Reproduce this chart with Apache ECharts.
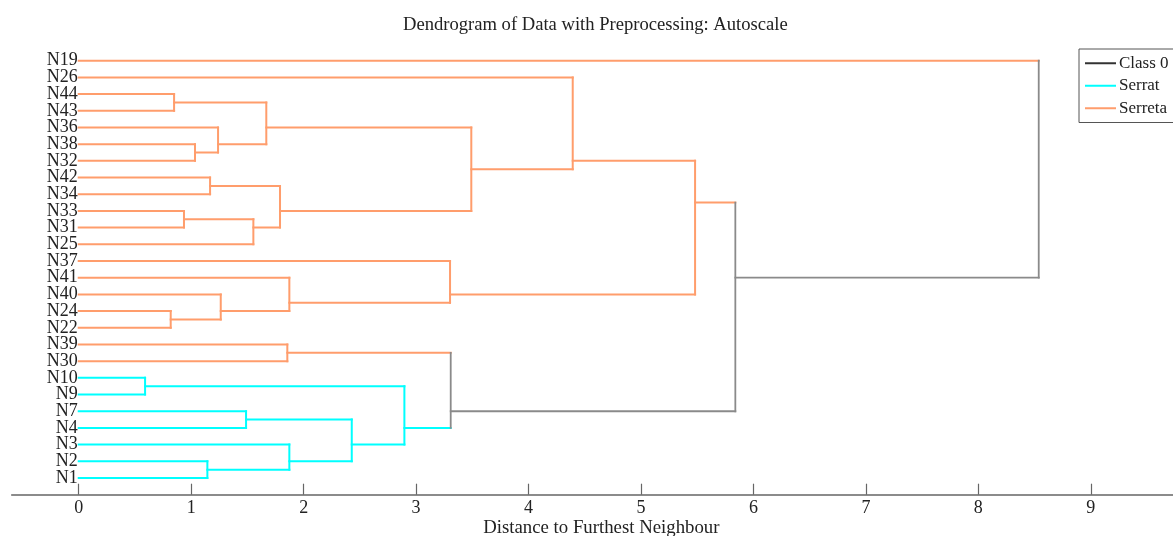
<!DOCTYPE html>
<html><head><meta charset="utf-8">
<script src="https://cdn.jsdelivr.net/npm/echarts@6/dist/echarts.min.js"></script>
<style>html,body{margin:0;padding:0;background:#fff}#c{width:1173px;height:536px}</style>
</head><body><div id="c"></div>
<script>
// ---- data ----
const leafNames = ['N19','N26','N44','N43','N36','N38','N32','N42','N34','N33','N31','N25','N37','N41','N40','N24','N22','N39','N30','N10','N9','N7','N4','N3','N2','N1'];
const leafClasses = ['Serreta','Serreta','Serreta','Serreta','Serreta','Serreta','Serreta','Serreta','Serreta','Serreta','Serreta','Serreta','Serreta','Serreta','Serreta','Serreta','Serreta','Serreta','Serreta','Serrat','Serrat','Serrat','Serrat','Serrat','Serrat','Serrat'];
const mergeLeft  = ['N44','N38','N36','m0','N42','N33','m5','m4','m3','N26','N24','N40','N41','N37','m9','N39','N10','N7','N2','N3','m17','m16','m15','m14','N19'];
const mergeRight = ['N43','N32','m1','m2','N34','N31','N25','m6','m7','m8','N22','m10','m11','m12','m13','N30','N9','N4','N1','m18','m19','m20','m21','m22','m23'];
const mergeHeights = [0.848,1.034,1.239,1.668,1.168,0.936,1.553,1.790,3.491,4.393,0.818,1.263,1.873,3.302,5.481,1.855,0.590,1.488,1.144,1.873,2.428,2.896,3.308,5.839,8.537];
const xTickValues = [0,1,2,3,4,5,6,7,8,9];
const classNames = ['Class 0','Serrat','Serreta'];
const classColors = {'Class 0':'#8a8a8a','Serrat':'#00FFFF','Serreta':'#FF9D6C'};

// ---- build tree ----
const nodes = {};
leafNames.forEach((n,i)=>{ nodes[n] = {h:0, y:i, leaves:[i], cls:leafClasses[i]}; });
mergeHeights.forEach((h,k)=>{
  const a = nodes[mergeLeft[k]], b = nodes[mergeRight[k]];
  const leaves = a.leaves.concat(b.leaves);
  const y = leaves.reduce((s,v)=>s+v,0)/leaves.length;
  const m = {h, y, leaves, cls: a.cls===b.cls ? a.cls : 'Class 0', kids:[a,b]};
  a.parent = m; b.parent = m;
  nodes['m'+k] = m;
});
const segs = [];
Object.values(nodes).forEach(n=>{
  if (n.parent) segs.push({cls:n.cls, pts:[[n.h,n.y],[n.parent.h,n.y]]});
  if (n.kids) segs.push({cls:n.cls, pts:[[n.h,n.kids[0].y],[n.h,n.kids[1].y]]});
});
const order = {'Serreta':0,'Serrat':1,'Class 0':2};
segs.sort((a,b)=>order[a.cls]-order[b.cls]);
const series = segs.map(s=>({
  type:'line', name:s.cls, data:s.pts, symbol:'none', showSymbol:false, silent:true, animation:false,
  color:classColors[s.cls],
  lineStyle:{color:classColors[s.cls], width: s.cls==='Class 0'?1.8:2, cap:'square'}
}));

const font = 'Liberation Serif';
const chart = echarts.init(document.getElementById('c'), null, {renderer:'canvas'});
chart.setOption({
  backgroundColor:'#fff',
  animation:false,
  title:{text:'Dendrogram of Data with Preprocessing: Autoscale', left:398, top:11,
    textStyle:{fontFamily:font, fontSize:18.6, fontWeight:'normal', color:'#222'}},
  legend:{
    orient:'vertical', left:1079, top:49, selectedMode:false,
    icon:'rect',
    data:[{name:'Class 0', itemStyle:{color:'#333'}},'Serrat','Serreta'],
    itemWidth:31, itemHeight:2, itemGap:4,
    padding:[5,20,5,6], borderColor:'#555', borderWidth:1, backgroundColor:'#fff',
    textStyle:{fontFamily:font, fontSize:17, color:'#222', lineHeight:18.5, padding:[0,0,0,-2]}
  },
  grid:{left:11.7, right:0, top:44, bottom:41.3, containLabel:false, outerBoundsMode:'none'},
  xAxis:{
    type:'value', min:-0.596, max:9.731,
    name:'Distance to Furthest Neighbour', nameLocation:'middle', nameGap:24, nameMoveOverlap:false,
    nameTextStyle:{fontFamily:font, fontSize:18.8, color:'#222', padding:[0,0,0,18]},
    axisLine:{show:true, onZero:false, lineStyle:{color:'#666', width:1.5}},
    axisTick:{show:true, inside:true, length:11, customValues:xTickValues, lineStyle:{color:'#666', width:1.2}},
    axisLabel:{customValues:xTickValues, fontFamily:font, fontSize:18, color:'#222', margin:5},
    splitLine:{show:false}
  },
  yAxis:{
    type:'value', inverse:true, min:-1, max:26, interval:1, offset:-67,
    axisLine:{show:false}, axisTick:{show:false}, splitLine:{show:false},
    axisLabel:{fontFamily:font, fontSize:18, color:'#222', margin:1,
      formatter:v=> (v>=0 && v<leafNames.length) ? leafNames[v] : ''}
  },
  series
});
</script></body></html>
